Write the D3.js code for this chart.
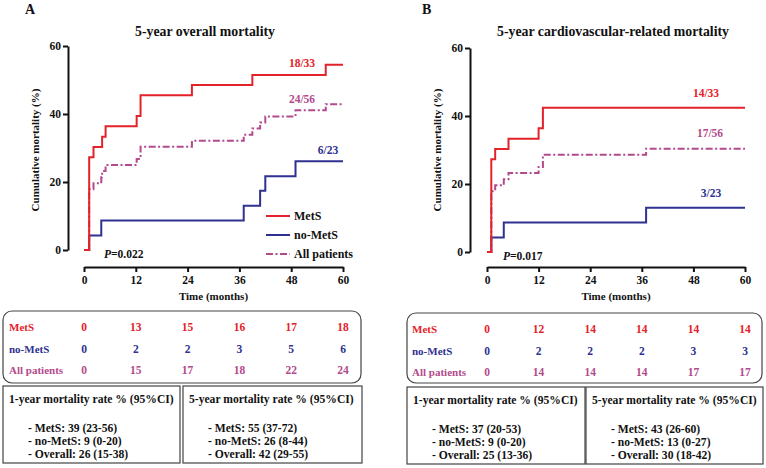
<!DOCTYPE html>
<meta charset="utf-8">
<style>
    body {
        margin: 0;
        background: #fff;
    }
    text {
        font-family: "Liberation Serif", "Times New Roman", serif;
        font-weight: bold;
        fill: #111;
    }
    .axis path, .axis line {
        stroke: #111;
        stroke-width: 2;
    }
    .axis text {
        font-size: 11.5px;
    }
    path.curve {
        fill: none;
        stroke-width: 2;
    }
    .mets { stroke: #e4222a; fill: #e4222a; }
    .nomets { stroke: #2e3190; fill: #2e3190; }
    .all { stroke: #b34a8c; fill: #b34a8c; }
    text.mets, text.nomets, text.all { stroke: none; }
    path.all { stroke-dasharray: 7, 2.5, 2, 2.5; }
    rect.box {
        fill: none;
        stroke: #444;
        stroke-width: 1.2;
    }
</style>
<body>
<script src="https://cdnjs.cloudflare.com/ajax/libs/d3/7.8.5/d3.min.js"></script>
<script>
    var xTicks = [0, 12, 24, 36, 48, 60];
    var yTicks = [0, 20, 40, 60];

    // panel A - overall mortality: step times (months) and cumulative mortality (%)
    var aMetsTime = [0, 1.2, 2.2, 4.2, 5.0, 12.2, 13.1, 25, 39, 56, 60];
    var aMetsPct = [0, 27.3, 30.3, 33.3, 36.4, 39.4, 45.5, 48.5, 51.5, 54.5, 54.5];
    var aNoMetsTime = [0, 1.2, 4.0, 37, 40.8, 42, 49, 60];
    var aNoMetsPct = [0, 4.3, 8.7, 13.0, 17.4, 21.7, 26.1, 26.1];
    var aAllTime = [0, 1.2, 2.2, 4.0, 4.2, 5.0, 12.2, 13.1, 25, 37, 39, 40.8, 42, 49, 56, 60];
    var aAllPct = [0, 17.9, 19.6, 21.4, 23.2, 25.0, 26.8, 30.4, 32.1, 33.9, 35.7, 37.5, 39.3, 41.1, 42.9, 42.9];

    // panel B - cardiovascular-related mortality
    var bMetsTime = [0, 1.0, 1.9, 5.0, 12.0, 13.0, 60];
    var bMetsPct = [0, 27.3, 30.3, 33.3, 36.4, 42.4, 42.4];
    var bNoMetsTime = [0, 1.0, 3.9, 37, 60];
    var bNoMetsPct = [0, 4.3, 8.7, 13.0, 13.0];
    var bAllTime = [0, 1.0, 1.9, 3.9, 5.0, 12.0, 13.0, 37, 60];
    var bAllPct = [0, 17.9, 19.6, 21.4, 23.2, 25.0, 28.6, 30.4, 30.4];

    // deaths table under each plot
    var tableRows = ["MetS", "no-MetS", "All patients"];
    var aTableMets = [0, 13, 15, 16, 17, 18];
    var aTableNoMets = [0, 2, 2, 3, 5, 6];
    var aTableAll = [0, 15, 17, 18, 22, 24];
    var bTableMets = [0, 12, 14, 14, 14, 14];
    var bTableNoMets = [0, 2, 2, 2, 3, 3];
    var bTableAll = [0, 14, 14, 14, 17, 17];

    var rateHeaders = ["1-year mortality rate % (95%CI)", "5-year mortality rate % (95%CI)"];
    var aRates1 = ["- MetS: 39 (23-56)", "- no-MetS: 9 (0-20)", "- Overall: 26 (15-38)"];
    var aRates5 = ["- MetS: 55 (37-72)", "- no-MetS: 26 (8-44)", "- Overall: 42 (29-55)"];
    var bRates1 = ["- MetS: 37 (20-53)", "- no-MetS: 9 (0-20)", "- Overall: 25 (13-36)"];
    var bRates5 = ["- MetS: 43 (26-60)", "- no-MetS: 13 (0-27)", "- Overall: 30 (18-42)"];

    var legendLabels = ["MetS", "no-MetS", "All patients"];

    var svg = d3.select("body").append("svg")
            .attr("width", 766)
            .attr("height", 468);

    var panels = [
        {
            letter: "A", letterX: 25, title: "5-year overall mortality", titleX: 205,
            yAxisX: 68, x0: 84, x1: 343, y0: 250, y1: 46, axisLabelX: 39,
            series: [
                {cls: "nomets", t: aNoMetsTime, v: aNoMetsPct, label: "6/23", lx: 328, ly: 154},
                {cls: "all", t: aAllTime, v: aAllPct, label: "24/56", lx: 302, ly: 103},
                {cls: "mets", t: aMetsTime, v: aMetsPct, label: "18/33", lx: 302, ly: 67}
            ],
            pText: "0.022", pX: 104, pY: 258,
            legend: true,
            table: [aTableMets, aTableNoMets, aTableAll],
            tableBox: [3, 311, 358, 72], tableLabelX: 9,
            rateBoxes: [[3, 386, 177, 77], [183, 386, 179, 77]],
            rates: [aRates1, aRates5]
        },
        {
            letter: "B", letterX: 422, title: "5-year cardiovascular-related mortality", titleX: 613,
            yAxisX: 470, x0: 487, x1: 745, y0: 252, y1: 48, axisLabelX: 441,
            series: [
                {cls: "nomets", t: bNoMetsTime, v: bNoMetsPct, label: "3/23", lx: 711, ly: 197},
                {cls: "all", t: bAllTime, v: bAllPct, label: "17/56", lx: 710, ly: 137},
                {cls: "mets", t: bMetsTime, v: bMetsPct, label: "14/33", lx: 706, ly: 97}
            ],
            pText: "0.017", pX: 503, pY: 260,
            legend: false,
            table: [bTableMets, bTableNoMets, bTableAll],
            tableBox: [407, 313, 355, 70], tableLabelX: 412,
            rateBoxes: [[407, 387, 178, 77], [586, 387, 177, 77]],
            rates: [bRates1, bRates5]
        }
    ];

    var rowClasses = ["mets", "nomets", "all"];

    panels.forEach(drawPanel);

    function drawPanel(p) {
        var x = d3.scaleLinear().domain([0, 60]).range([p.x0, p.x1]);
        var y = d3.scaleLinear().domain([0, 60]).range([p.y0, p.y1]);

        svg.append("text")
                .attr("x", p.letterX)
                .attr("y", 14)
                .style("font-size", "14px")
                .text(p.letter);

        svg.append("text")
                .attr("x", p.titleX)
                .attr("y", 36)
                .attr("text-anchor", "middle")
                .style("font-size", "13.8px")
                .text(p.title);

        svg.append("g")
                .attr("class", "axis")
                .attr("transform", "translate(" + p.yAxisX + ",0)")
                .call(d3.axisLeft(y).tickValues(yTicks).tickSize(5).tickSizeOuter(0).tickPadding(2));

        svg.append("g")
                .attr("class", "axis")
                .attr("transform", "translate(0,267)")
                .call(d3.axisBottom(x).tickValues(xTicks).tickSize(5).tickSizeOuter(0).tickPadding(4));

        svg.append("text")
                .attr("transform", "translate(" + p.axisLabelX + ",150) rotate(-90)")
                .attr("text-anchor", "middle")
                .style("font-size", "11px")
                .text("Cumulative mortality (%)");

        svg.append("text")
                .attr("x", (p.x0 + p.x1) / 2)
                .attr("y", 300)
                .attr("text-anchor", "middle")
                .style("font-size", "11px")
                .text("Time (months)");

        var line = d3.line()
                .curve(d3.curveStepAfter)
                .x(function (d) { return x(d[0]); })
                .y(function (d) { return y(d[1]); });

        p.series.forEach(function (s) {
            var pts = s.t.map(function (t, i) { return [t, s.v[i]]; });
            svg.append("path")
                    .attr("class", "curve " + s.cls)
                    .attr("d", line(pts));
            svg.append("text")
                    .attr("class", s.cls)
                    .attr("x", s.lx)
                    .attr("y", s.ly)
                    .attr("text-anchor", "middle")
                    .style("font-size", "11.5px")
                    .text(s.label);
        });

        var pt = svg.append("text")
                .attr("x", p.pX)
                .attr("y", p.pY)
                .style("font-size", "11.5px");
        pt.append("tspan").style("font-style", "italic").text("P");
        pt.append("tspan").text("=" + p.pText);

        if (p.legend) {
            legendLabels.forEach(function (lab, i) {
                var ly = 216 + i * 19;
                svg.append("path")
                        .attr("class", "curve " + rowClasses[i])
                        .attr("d", "M266," + ly + "H290");
                svg.append("text")
                        .attr("x", 294)
                        .attr("y", ly + 4)
                        .style("font-size", "12px")
                        .text(lab);
            });
        }

        // deaths table
        var tb = p.tableBox;
        svg.append("rect")
                .attr("class", "box")
                .attr("x", tb[0]).attr("y", tb[1])
                .attr("width", tb[2]).attr("height", tb[3])
                .attr("rx", 9).attr("ry", 9);

        tableRows.forEach(function (row, i) {
            var ry = tb[1] + 20 + i * 21.5;
            svg.append("text")
                    .attr("class", rowClasses[i])
                    .attr("x", p.tableLabelX)
                    .attr("y", ry)
                    .style("font-size", "11px")
                    .text(row);
            p.table[i].forEach(function (v, j) {
                svg.append("text")
                        .attr("class", rowClasses[i])
                        .attr("x", x(xTicks[j]))
                        .attr("y", ry)
                        .attr("text-anchor", "middle")
                        .style("font-size", "11.5px")
                        .text(v);
            });
        });

        // mortality rate boxes
        p.rateBoxes.forEach(function (rb, k) {
            svg.append("rect")
                    .attr("class", "box")
                    .attr("x", rb[0]).attr("y", rb[1])
                    .attr("width", rb[2]).attr("height", rb[3]);
            svg.append("text")
                    .attr("x", rb[0] + 6)
                    .attr("y", rb[1] + 17)
                    .style("font-size", "11.6px")
                    .text(rateHeaders[k]);
            p.rates[k].forEach(function (r, i) {
                svg.append("text")
                        .attr("x", rb[0] + 25)
                        .attr("y", rb[1] + 46 + i * 13)
                        .style("font-size", "11.6px")
                        .text(r);
            });
        });
    }
</script>
</body>
